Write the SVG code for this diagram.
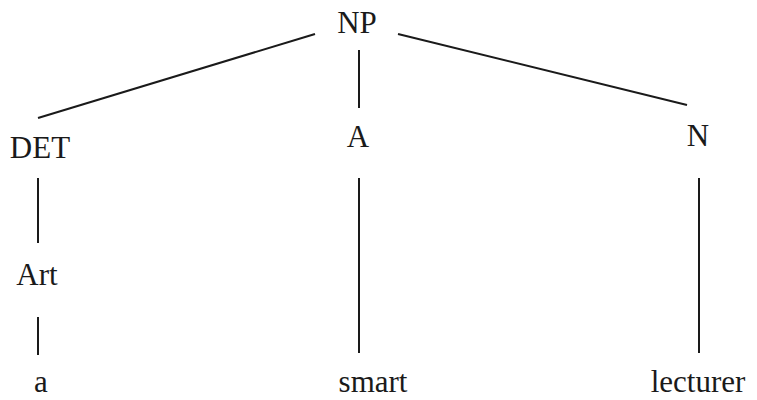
<svg xmlns="http://www.w3.org/2000/svg" width="757" height="400" viewBox="0 0 757 400">
<style>
.t{font-family:'Liberation Serif','DejaVu Serif',serif;font-size:31px;fill:#1a1a1a;text-anchor:middle}
.e{stroke:#1a1a1a;stroke-width:2;fill:none;stroke-linecap:butt}
</style>
<rect width="757" height="400" fill="#ffffff"/>
<g id="connectors">
<line class="e" x1="315" y1="34" x2="38" y2="118"/>
<line class="e" x1="398" y1="34" x2="687" y2="105"/>
<line class="e" x1="359" y1="50" x2="359" y2="108"/>
<line class="e" x1="359" y1="178" x2="359" y2="353"/>
<line class="e" x1="38" y1="178" x2="38" y2="243"/>
<line class="e" x1="38" y1="317" x2="38" y2="355"/>
<line class="e" x1="699" y1="178" x2="699" y2="353"/>
</g>
<g id="NP"><text class="t" x="357" y="33" font-family="Liberation Serif">NP</text></g>
<g id="DET"><text class="t" x="40" y="158" font-family="Liberation Serif">DET</text></g>
<g id="A"><text class="t" x="358" y="147" font-family="Liberation Serif">A</text></g>
<g id="N"><text class="t" x="698" y="146" font-family="Liberation Serif">N</text></g>
<g id="Art"><text class="t" x="37" y="285" font-family="Liberation Serif">Art</text></g>
<g id="a"><text class="t" x="41" y="392" font-family="Liberation Serif">a</text></g>
<g id="smart"><text class="t" x="373" y="392" font-family="Liberation Serif">smart</text></g>
<g id="lecturer"><text class="t" x="698" y="392" font-family="Liberation Serif">lecturer</text></g>
</svg>
